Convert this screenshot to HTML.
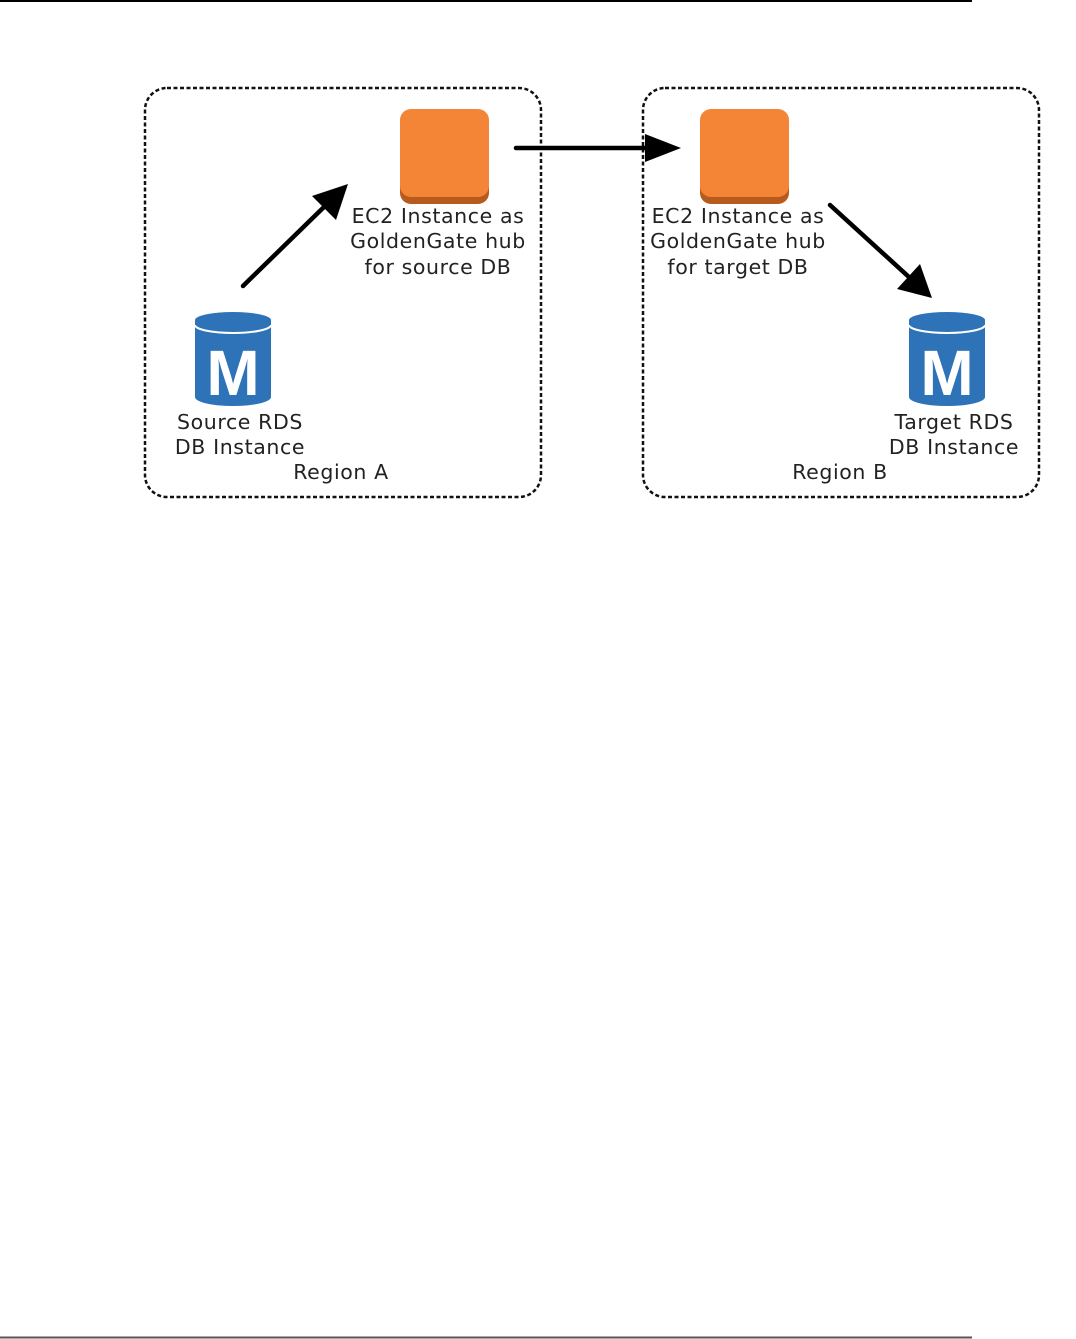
<!DOCTYPE html>
<html><head><meta charset="utf-8"><style>
html,body{margin:0;padding:0;background:#fff;}
svg{display:block;}
text{font-family:"DejaVu Sans",Verdana,sans-serif;font-size:20.5px;letter-spacing:0.6px;fill:#222;}
</style></head><body>
<svg width="1076" height="1339" viewBox="0 0 1076 1339" xmlns="http://www.w3.org/2000/svg">
<line x1="0" y1="1" x2="972" y2="1" stroke="#000" stroke-width="2"/>
<line x1="0" y1="1337.5" x2="972" y2="1337.5" stroke="#555" stroke-width="2"/>
<rect x="145" y="88" width="396" height="409" rx="22" fill="none" stroke="#111" stroke-width="2.5" stroke-dasharray="4,2.5"/>
<rect x="643" y="88" width="396" height="409" rx="22" fill="none" stroke="#111" stroke-width="2.5" stroke-dasharray="4,2.5"/>
<rect x="400" y="112" width="89" height="92" rx="11" fill="#b75a1d"/>
<rect x="400" y="109" width="89" height="88" rx="11" fill="#f58536"/>
<rect x="700" y="112" width="89" height="92" rx="11" fill="#b75a1d"/>
<rect x="700" y="109" width="89" height="88" rx="11" fill="#f58536"/>
<g>
<path d="M195 320 L195 397 A38 9 0 0 0 271 397 L271 320 Z" fill="#2e73b8"/>
<ellipse cx="233" cy="320" rx="38" ry="8" fill="#2e73b8"/>
<path d="M195 325 A38 8 0 0 0 271 325" fill="none" stroke="#fff" stroke-width="2"/>
<text x="233" y="395" text-anchor="middle" style="font-family:'Liberation Sans',Arial,sans-serif;font-size:64px;font-weight:bold;fill:#fff;letter-spacing:0">M</text>
</g>
<g>
<path d="M909 320 L909 397 A38 9 0 0 0 985 397 L985 320 Z" fill="#2e73b8"/>
<ellipse cx="947" cy="320" rx="38" ry="8" fill="#2e73b8"/>
<path d="M909 325 A38 8 0 0 0 985 325" fill="none" stroke="#fff" stroke-width="2"/>
<text x="947" y="395" text-anchor="middle" style="font-family:'Liberation Sans',Arial,sans-serif;font-size:64px;font-weight:bold;fill:#fff;letter-spacing:0">M</text>
</g>
<line x1="243" y1="286" x2="325" y2="206" stroke="#000" stroke-width="4.5" stroke-linecap="round"/>
<polygon points="348,184 336,220 312,196" fill="#000"/>
<line x1="516" y1="148" x2="650" y2="148" stroke="#000" stroke-width="4.5" stroke-linecap="round"/>
<polygon points="681,148 645,134 645,162" fill="#000"/>
<line x1="830" y1="205" x2="910" y2="278" stroke="#000" stroke-width="4.5" stroke-linecap="round"/>
<polygon points="932,298 920,264 897,289" fill="#000"/>
<g text-anchor="middle">
<text x="438" y="223">EC2 Instance as</text>
<text x="438" y="248">GoldenGate hub</text>
<text x="438" y="274">for source DB</text>
<text x="738" y="223">EC2 Instance as</text>
<text x="738" y="248">GoldenGate hub</text>
<text x="738" y="274">for target DB</text>
<text x="240" y="429">Source RDS</text>
<text x="240" y="454">DB Instance</text>
<text x="341" y="479">Region A</text>
<text x="954" y="429">Target RDS</text>
<text x="954" y="454">DB Instance</text>
<text x="840" y="479">Region B</text>
</g>
</svg>
</body></html>
